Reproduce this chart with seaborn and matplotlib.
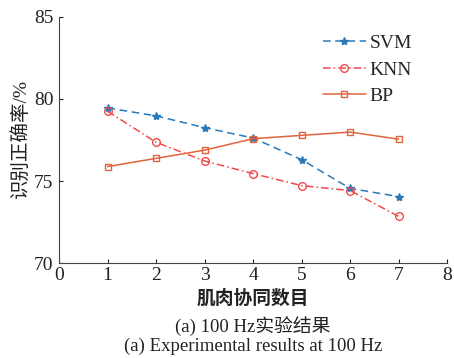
import numpy as np
import pandas as pd
import matplotlib
matplotlib.use('Agg')
import matplotlib.pyplot as plt
import seaborn as sns

synergy = [1, 2, 3, 4, 5, 6, 7]
svm = [79.45, 78.97, 78.25, 77.62, 76.3, 74.55, 74.05]
knn = [79.25, 77.36, 76.22, 75.45, 74.72, 74.42, 72.84]
bp = [75.88, 76.38, 76.88, 77.58, 77.78, 77.98, 77.55]

sns.set_style('ticks')
plt.rcParams['font.family'] = ['Liberation Serif', 'Noto Sans CJK SC']
plt.rcParams['xtick.direction'] = 'in'
plt.rcParams['ytick.direction'] = 'in'

fig = plt.figure(figsize=(4.54, 3.58), dpi=100)
ax = fig.add_axes([0.13, 0.265, 0.855, 0.688])

styles = [
    ('SVM', svm, '#2a7ab9', (0, (5, 3)), '*', 'full', 6),
    ('KNN', knn, '#f24a4a', (0, (5, 2, 1, 2)), 'o', 'none', 5.5),
    ('BP', bp, '#e0643c', '-', 's', 'none', 4.5),
]
for name, vals, col, ls, mk, fill, ms in styles:
    sns.lineplot(x=synergy, y=vals, ax=ax, color=col, linestyle=ls, linewidth=1.1,
                 marker=mk, markersize=ms, fillstyle=fill,
                 markeredgecolor=col, markeredgewidth=1.0, label=name)

ax.set_xlim(0, 8)
ax.set_ylim(70, 85)
ax.set_xticks(range(0, 9))
ax.set_yticks([70, 75, 80, 85])
ax.tick_params(labelsize=14, length=3, width=0.8, colors='#222222')
ax.tick_params(axis='y', pad=4)
ax.tick_params(axis='x', pad=3)
for s in ['top', 'right']:
    ax.spines[s].set_visible(False)
for s in ['left', 'bottom']:
    ax.spines[s].set_color('#444444')
    ax.spines[s].set_linewidth(0.8)

ax.set_xlabel('')
ax.set_ylabel('识别正确率/%', fontsize=14, labelpad=3, color='#222222')

leg = ax.legend(loc='upper right', bbox_to_anchor=(0.94, 0.975), frameon=False, fontsize=14,
                handlelength=2.2, handletextpad=0.2, labelspacing=0.45, borderaxespad=0.2)

fig.text(0.556, 0.165, '肌肉协同数目', ha='center', va='center', fontsize=13.5,
         fontweight='bold', color='#222222')
fig.text(0.557, 0.087, '(a) 100 Hz实验结果', ha='center', va='center', fontsize=13.5, color='#222222')
fig.text(0.557, 0.032, '(a) Experimental results at 100 Hz', ha='center', va='center',
         fontsize=13.5, color='#222222')

fig.savefig('out.png', dpi=100)
